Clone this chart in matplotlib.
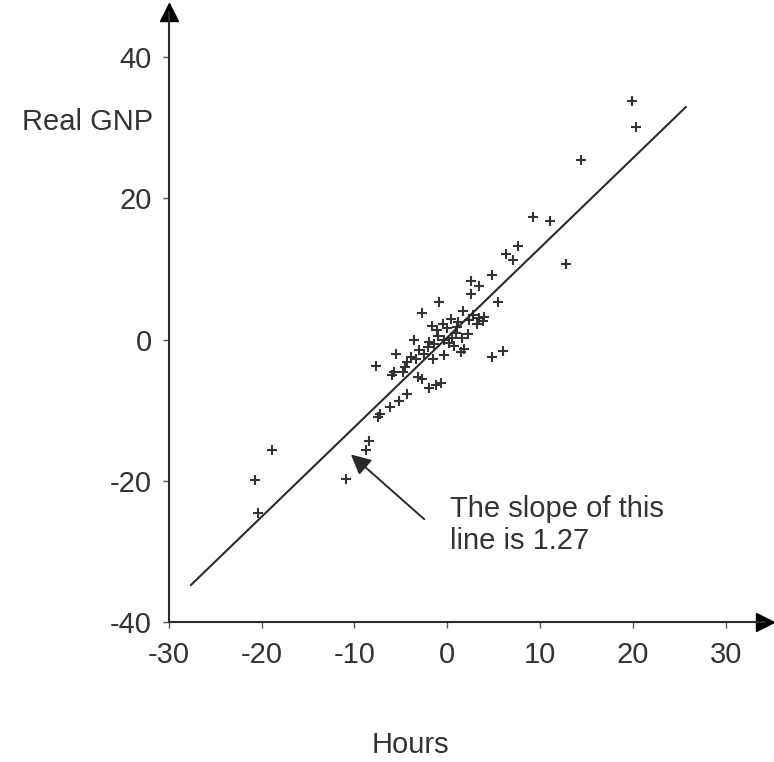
import numpy as np
import matplotlib
matplotlib.use("Agg")
import matplotlib.pyplot as plt

plt.rcParams['font.family'] = ['Liberation Sans', 'DejaVu Sans']
plt.rcParams['axes.unicode_minus'] = False

# scatter values (hours, real GNP)
hours = [19.9, 20.3, 14.4, 9.2, 11.1, 7.6, 6.3, 7.1, 12.8, 4.8, 2.6, 3.4, 5.5, 2.6,
         -0.9, -2.7, 1.7, 2.8, 3.4, 3.8, 2.3, 3.2, 4.0, 1.2, 0.4, -0.5, -1.6, -1.1,
         0.0, 0.9, 1.6, 1.8, 0.7, -0.4, -1.4, -2.1, -2.5, -3.6, -3.9, -3.4, -4.3,
         -4.6, -4.8, -7.7, -5.7, -3.2, -2.7, -2.0, -0.7, -4.3, -5.2, -6.2, -7.5,
         4.8, 6.0, 1.5, -1.0, 0.5, -2.0, 0.2, 1.0, -3.0, -1.5, -0.3, 2.2, -5.5,
         -6.0, -1.2, -18.9, -20.7, -20.4, -10.9, -8.4, -8.7, -7.2]
gnp = [33.8, 30.1, 25.4, 17.4, 16.8, 13.2, 12.1, 11.3, 10.7, 9.2, 8.3, 7.6, 5.3, 6.4,
       5.3, 3.8, 4.1, 3.5, 3.0, 2.6, 2.8, 2.2, 3.2, 2.5, 2.9, 2.2, 2.0, 1.3,
       1.6, 0.9, 0.3, -1.3, -0.9, -0.1, -0.6, -1.1, -2.0, -0.1, -2.5, -2.7, -3.2,
       -3.9, -4.6, -3.7, -4.6, -5.3, -5.6, -6.8, -6.1, -7.7, -8.7, -9.6, -11.0,
       -2.5, -1.6, -1.8, 0.5, 0.2, -0.3, -0.5, 1.8, -1.5, -2.8, -2.2, 0.8, -2.0,
       -5.0, -6.4, -15.7, -19.9, -24.6, -19.8, -14.4, -15.7, -10.6]

# fitted line
slope = 1.27
intercept = 0.3
line_x = [-27.6, 25.7]

x_ticks = [-30, -20, -10, 0, 10, 20, 30]
y_ticks = [-40, -20, 0, 20, 40]

fig = plt.figure(figsize=(7.74, 7.62), dpi=100)
ax = fig.add_axes([0.218, 0.1837, 0.77, 0.8005])

ink = '#2a2a2a'
txt = '#333333'
fs = 21
ax.plot(hours, gnp, linestyle='none', marker='+', markersize=6.5, mew=1.5, color='#333333')
lx = np.array(line_x)
ax.plot(lx, slope * lx + intercept, color=ink, lw=1.5)

ax.set_xlim(-30, 34.2)
ax.set_ylim(-40, 46.4)
ax.set_xticks(x_ticks)
ax.set_yticks(y_ticks)
ax.tick_params(axis='x', length=4, width=1, colors='#555555', labelcolor=txt,
               labelsize=fs, pad=10)
ax.tick_params(axis='y', length=4, width=1, colors='#555555', labelcolor=txt,
               labelsize=fs, pad=8)

for side in ['top', 'right']:
    ax.spines[side].set_visible(False)
for side in ['left', 'bottom']:
    ax.spines[side].set_linewidth(1.5)
    ax.spines[side].set_color(ink)

# arrow heads on the axes
ax.plot(1, 0, '>', color='black', markersize=13, transform=ax.transAxes, clip_on=False)
ax.plot(0, 1, '^', color='black', markersize=13, transform=ax.transAxes, clip_on=False)

fig.text(153 / 774, 1 - 122 / 762, 'Real GNP', ha='right', va='center',
         fontsize=fs, color=txt)
fig.text(410 / 774, 1 - 745 / 762, 'Hours', ha='center', va='center',
         fontsize=fs, color=txt)

ax.annotate('', xy=(-10.6, -16.0), xytext=(-2.25, -25.7),
            arrowprops=dict(arrowstyle='-|>', mutation_scale=30, lw=1.4, color=ink))
ax.text(0.3, -24.0, 'The slope of this', ha='left', va='center', fontsize=fs, color=txt)
ax.text(0.3, -28.5, 'line is 1.27', ha='left', va='center', fontsize=fs, color=txt)

fig.savefig('out.png', dpi=100)
